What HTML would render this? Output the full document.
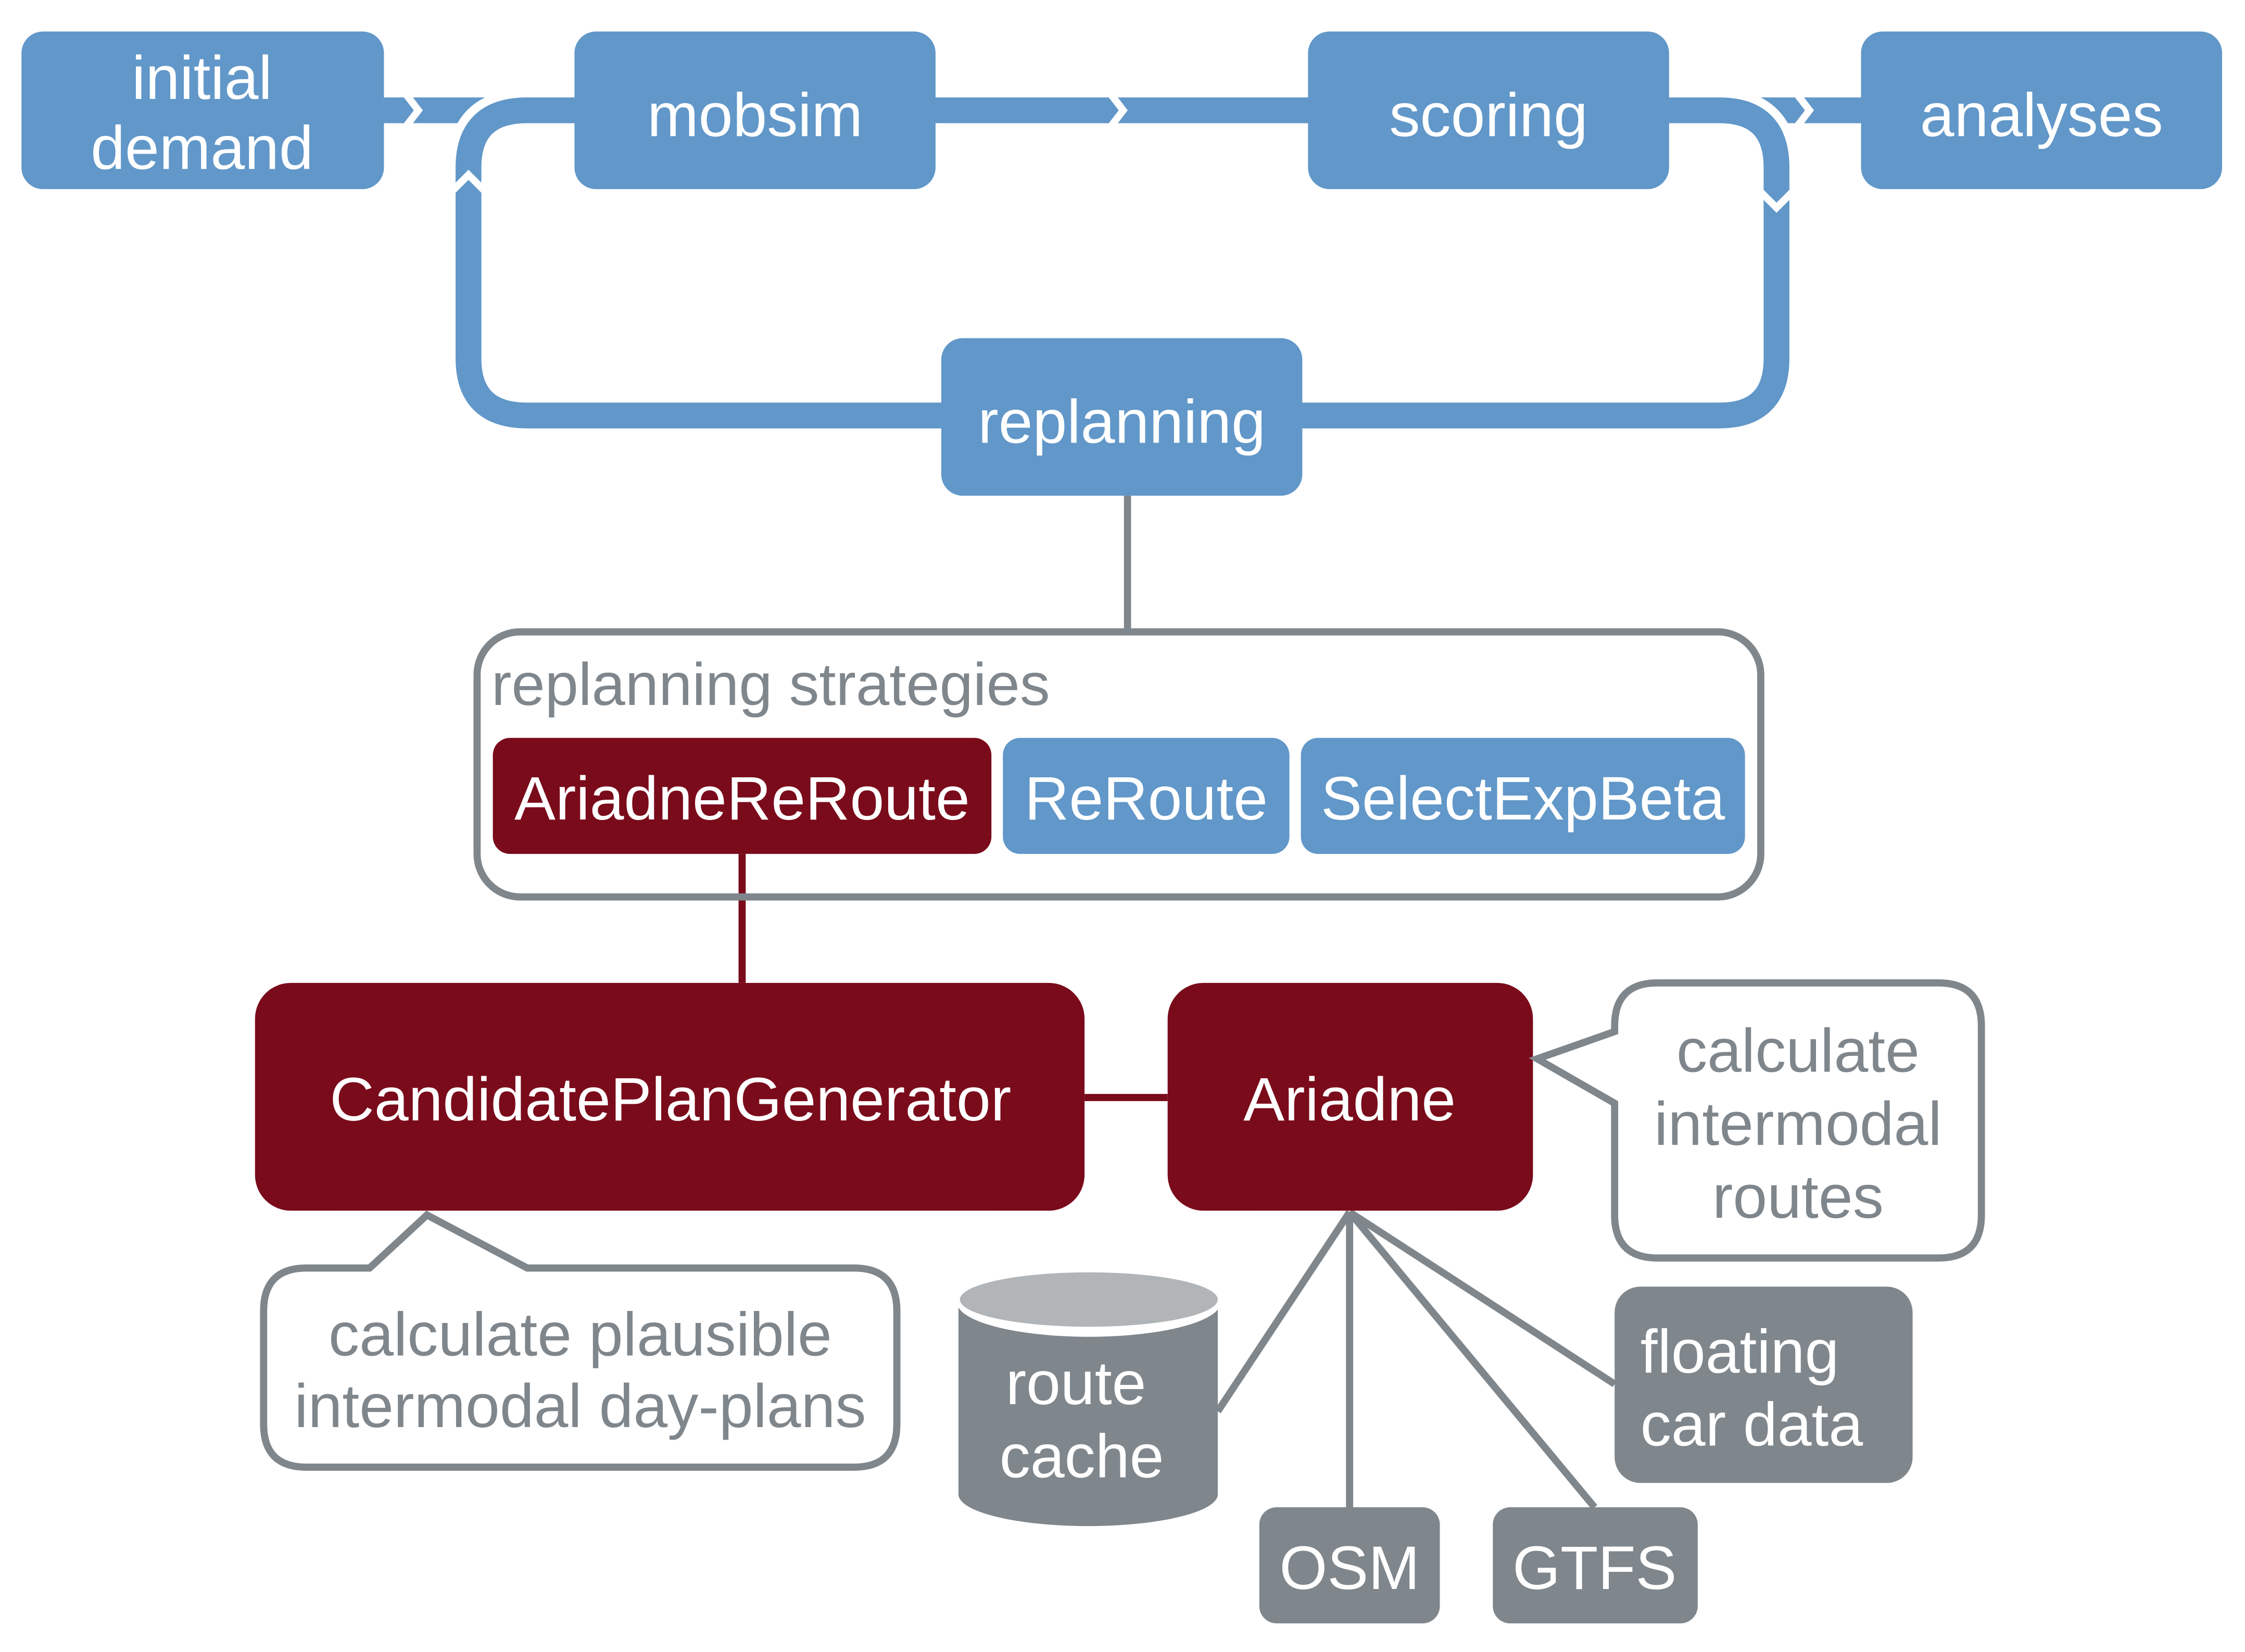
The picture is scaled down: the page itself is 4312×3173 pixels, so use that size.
<!DOCTYPE html>
<html><head><meta charset="utf-8"><style>html,body{margin:0;padding:0;background:#fff}svg{display:block}</style></head><body>
<svg width="4312" height="3173" viewBox="0 0 1567 1153" preserveAspectRatio="none" xmlns="http://www.w3.org/2000/svg" font-family="Liberation Sans, Arial, sans-serif">
<g fill="none" stroke-linejoin="round">
<path d="M268 77 H1299" stroke="#6197c9" stroke-width="18"/>
<path d="M1165 77 H1200 Q1240 77 1240 117 V250 Q1240 290 1200 290 H368 Q327 290 327 250 V117 Q327 77 368 77 H401" stroke="#fff" stroke-width="30"/>
<path d="M1165 77 H1200 Q1240 77 1240 117 V250 Q1240 290 1200 290 H368 Q327 290 327 250 V117 Q327 77 368 77 H401" stroke="#6197c9" stroke-width="18"/>
<path d="M282 64 L292 77 L282 90" stroke="#fff" stroke-width="5" stroke-linejoin="miter"/>
<path d="M774 64 L784 77 L774 90" stroke="#fff" stroke-width="5" stroke-linejoin="miter"/>
<path d="M1253 64 L1263 77 L1253 90" stroke="#fff" stroke-width="5" stroke-linejoin="miter"/>
<path d="M314 135 L327 122 L340 135" stroke="#fff" stroke-width="5" stroke-linejoin="miter"/>
<path d="M1227 132 L1240 145 L1253 132" stroke="#fff" stroke-width="5" stroke-linejoin="miter"/>
<path d="M787 346 V441" stroke="#7f868c" stroke-width="5"/>
<path d="M518 596 V686 M757 766 H815" stroke="#7a0b1b" stroke-width="5"/>
<path d="M942 846 L850 985 M942 846 V1052 M942 846 L1113 1052 M942 846 L1127 966" stroke="#7f868c" stroke-width="5"/>
</g>
<g fill="#6197c9">
<rect x="15" y="22" width="253" height="110" rx="15"/>
<rect x="401" y="22" width="252" height="110" rx="15"/>
<rect x="913" y="22" width="252" height="110" rx="15"/>
<rect x="1299" y="22" width="252" height="110" rx="15"/>
<rect x="657" y="236" width="252" height="110" rx="15"/>
<rect x="700" y="515" width="200" height="81" rx="12"/>
<rect x="908" y="515" width="310" height="81" rx="12"/>
</g>
<g fill="#fff" font-size="43" text-anchor="middle">
<text x="141" y="69">initial</text>
<text x="141" y="118">demand</text>
<text x="527" y="95">mobsim</text>
<text x="1039" y="95">scoring</text>
<text x="1425" y="95">analyses</text>
<text x="783" y="309">replanning</text>
</g>
<rect x="333" y="441" width="896" height="185" rx="30" fill="none" stroke="#7f868c" stroke-width="5"/>
<text x="343" y="492" font-size="42" fill="#7f868c">replanning strategies</text>
<rect x="344" y="515" width="348" height="81" rx="12" fill="#7a0b1b"/>
<g fill="#fff" font-size="43" text-anchor="middle">
<text x="518" y="572">AriadneReRoute</text>
<text x="800" y="572">ReRoute</text>
<text x="1063" y="572">SelectExpBeta</text>
</g>
<rect x="178" y="686" width="579" height="159" rx="25" fill="#7a0b1b"/>
<rect x="815" y="686" width="255" height="159" rx="25" fill="#7a0b1b"/>
<g fill="#fff" font-size="43" text-anchor="middle">
<text x="468" y="782">CandidatePlanGenerator</text>
<text x="942" y="782">Ariadne</text>
</g>
<path d="M1157 686 H1353 Q1383 686 1383 716 V848 Q1383 878 1353 878 H1157 Q1127 878 1127 848 V770 L1073 739 L1127 720 V716 Q1127 686 1157 686 Z" fill="#fff" stroke="#7f868c" stroke-width="5"/>
<g fill="#7f868c" font-size="43" text-anchor="middle">
<text x="1255" y="748">calculate</text>
<text x="1255" y="799">intermodal</text>
<text x="1255" y="850">routes</text>
</g>
<path d="M214 885 H258 L298 848 L368 885 H596 Q626 885 626 915 V994 Q626 1024 596 1024 H214 Q184 1024 184 994 V915 Q184 885 214 885 Z" fill="#fff" stroke="#7f868c" stroke-width="5"/>
<g fill="#7f868c" font-size="43" text-anchor="middle">
<text x="405" y="946">calculate plausible</text>
<text x="405" y="996">intermodal day-plans</text>
</g>
<path d="M669 909 V1043 A90 22 0 0 0 850 1043 V909 Z" fill="#7f868c"/>
<ellipse cx="760" cy="909" rx="92" ry="24" fill="#fff"/>
<ellipse cx="760" cy="907" rx="90" ry="19" fill="#b1b5b8"/>
<g fill="#fff" font-size="43" text-anchor="middle">
<text x="751" y="980">route</text>
<text x="755" y="1031">cache</text>
</g>
<g fill="#7f868c">
<rect x="1127" y="898" width="208" height="137" rx="18"/>
<rect x="879" y="1052" width="126" height="81" rx="12"/>
<rect x="1042" y="1052" width="143" height="81" rx="12"/>
</g>
<g fill="#fff" font-size="43">
<text x="1145" y="958">floating</text>
<text x="1145" y="1009">car data</text>
<text x="942" y="1109" text-anchor="middle">OSM</text>
<text x="1113" y="1109" text-anchor="middle">GTFS</text>
</g>
</svg>
</body></html>
